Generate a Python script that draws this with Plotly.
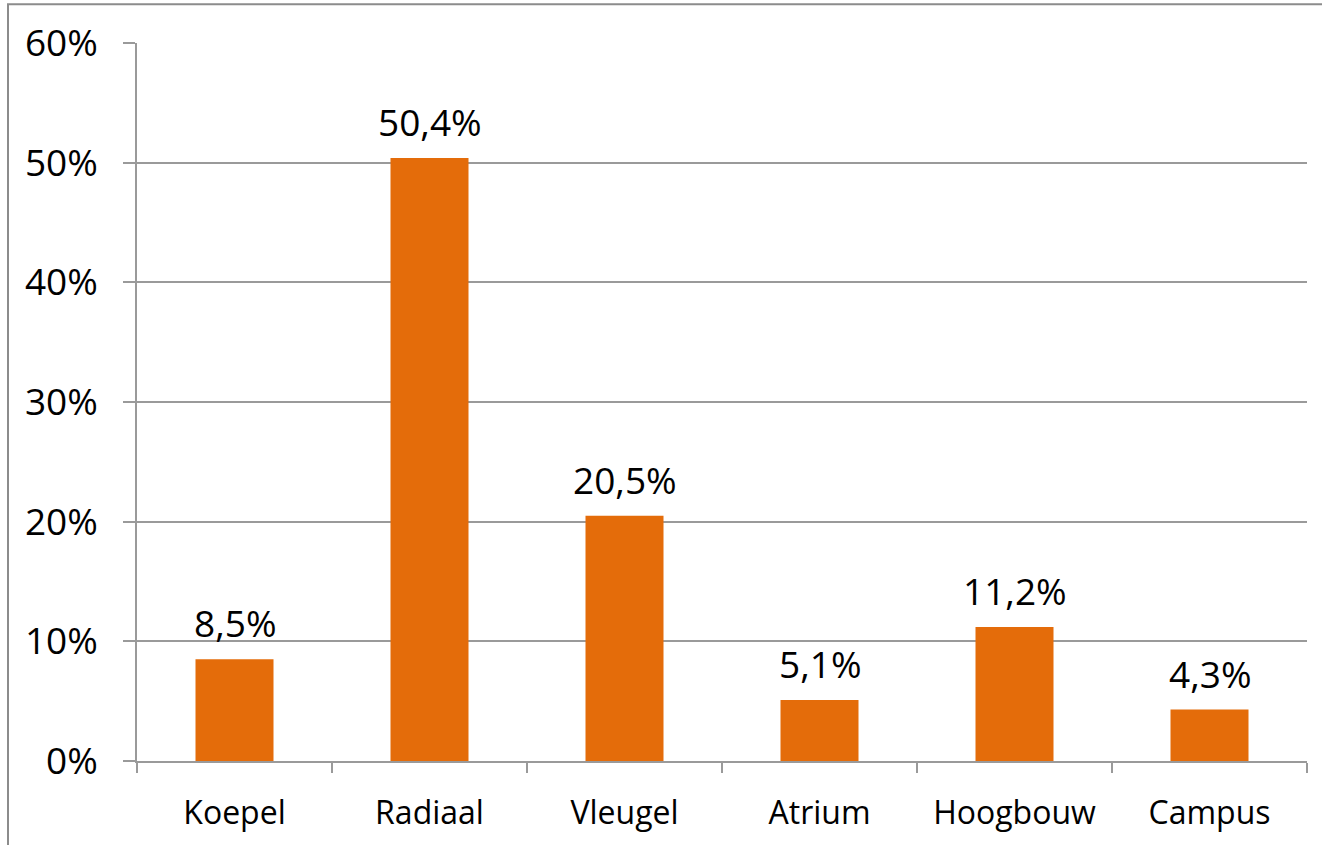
import plotly.graph_objects as go

categories = ["Koepel", "Radiaal", "Vleugel", "Atrium", "Hoogbouw", "Campus"]
values = [8.5, 50.4, 20.5, 5.1, 11.2, 4.3]
y_ticks = [0, 10, 20, 30, 40, 50, 60]
y_ticklabels = [f"{t}%" for t in y_ticks]

labels = [f"{v:.1f}".replace(".", ",") + "%" for v in values]

FONT = "Open Sans"
GRID = "#9a9a9a"

fig = go.Figure()
fig.add_trace(go.Bar(
    x=categories, y=values, width=0.4,
    marker=dict(color="#E46C0A", line=dict(width=0)),
    hoverinfo="skip",
))

annotations = []
for c, v, t in zip(categories, values, labels):
    annotations.append(dict(
        x=c, y=v, text=t, showarrow=False, xref="x", yref="y",
        yanchor="bottom", yshift=9,
        font=dict(family=FONT, size=37, color="#000000"),
    ))

W, H = 1322, 845
L, R, T, B = 137, 15, 43, 79
pw, ph = W - L - R, H - T - B

def px_x(x):
    return (x - L) / pw

def px_y(y):
    return (H - B - y) / ph

fig.update_layout(
    width=W, height=H,
    margin=dict(l=L, r=R, t=T, b=B, pad=0),
    paper_bgcolor="white", plot_bgcolor="white",
    showlegend=False,
    annotations=annotations,
    font=dict(family=FONT, color="#000000"),
    xaxis=dict(
        type="category", range=[-0.5, 5.5],
        showline=True, linecolor=GRID, linewidth=1.5,
        ticks="outside", tickson="boundaries", ticklen=10, tickcolor=GRID, tickwidth=1.5,
        tickfont=dict(family=FONT, size=32, color="#000000"),
        ticklabelstandoff=23,
        showgrid=False, zeroline=False,
    ),
    yaxis=dict(
        range=[0, 60], tickvals=y_ticks, ticktext=y_ticklabels,
        showline=True, linecolor=GRID, linewidth=1.5,
        ticks="outside", ticklen=12, tickcolor=GRID, tickwidth=1.5,
        tickfont=dict(family=FONT, size=37, color="#000000"),
        ticklabelstandoff=18,
        showgrid=True, gridcolor=GRID, gridwidth=1.5,
        zeroline=False,
    ),
    shapes=[dict(
        type="rect", xref="paper", yref="paper",
        x0=px_x(8), x1=px_x(1340), y0=px_y(860), y1=px_y(4),
        line=dict(color="#8c8c8c", width=2), fillcolor="rgba(0,0,0,0)",
        layer="above",
    )],
)

fig.write_html(
    "out.html",
    config={"displayModeBar": False},
    post_script="document.body.style.margin='0';document.body.style.overflow='hidden';",
)
